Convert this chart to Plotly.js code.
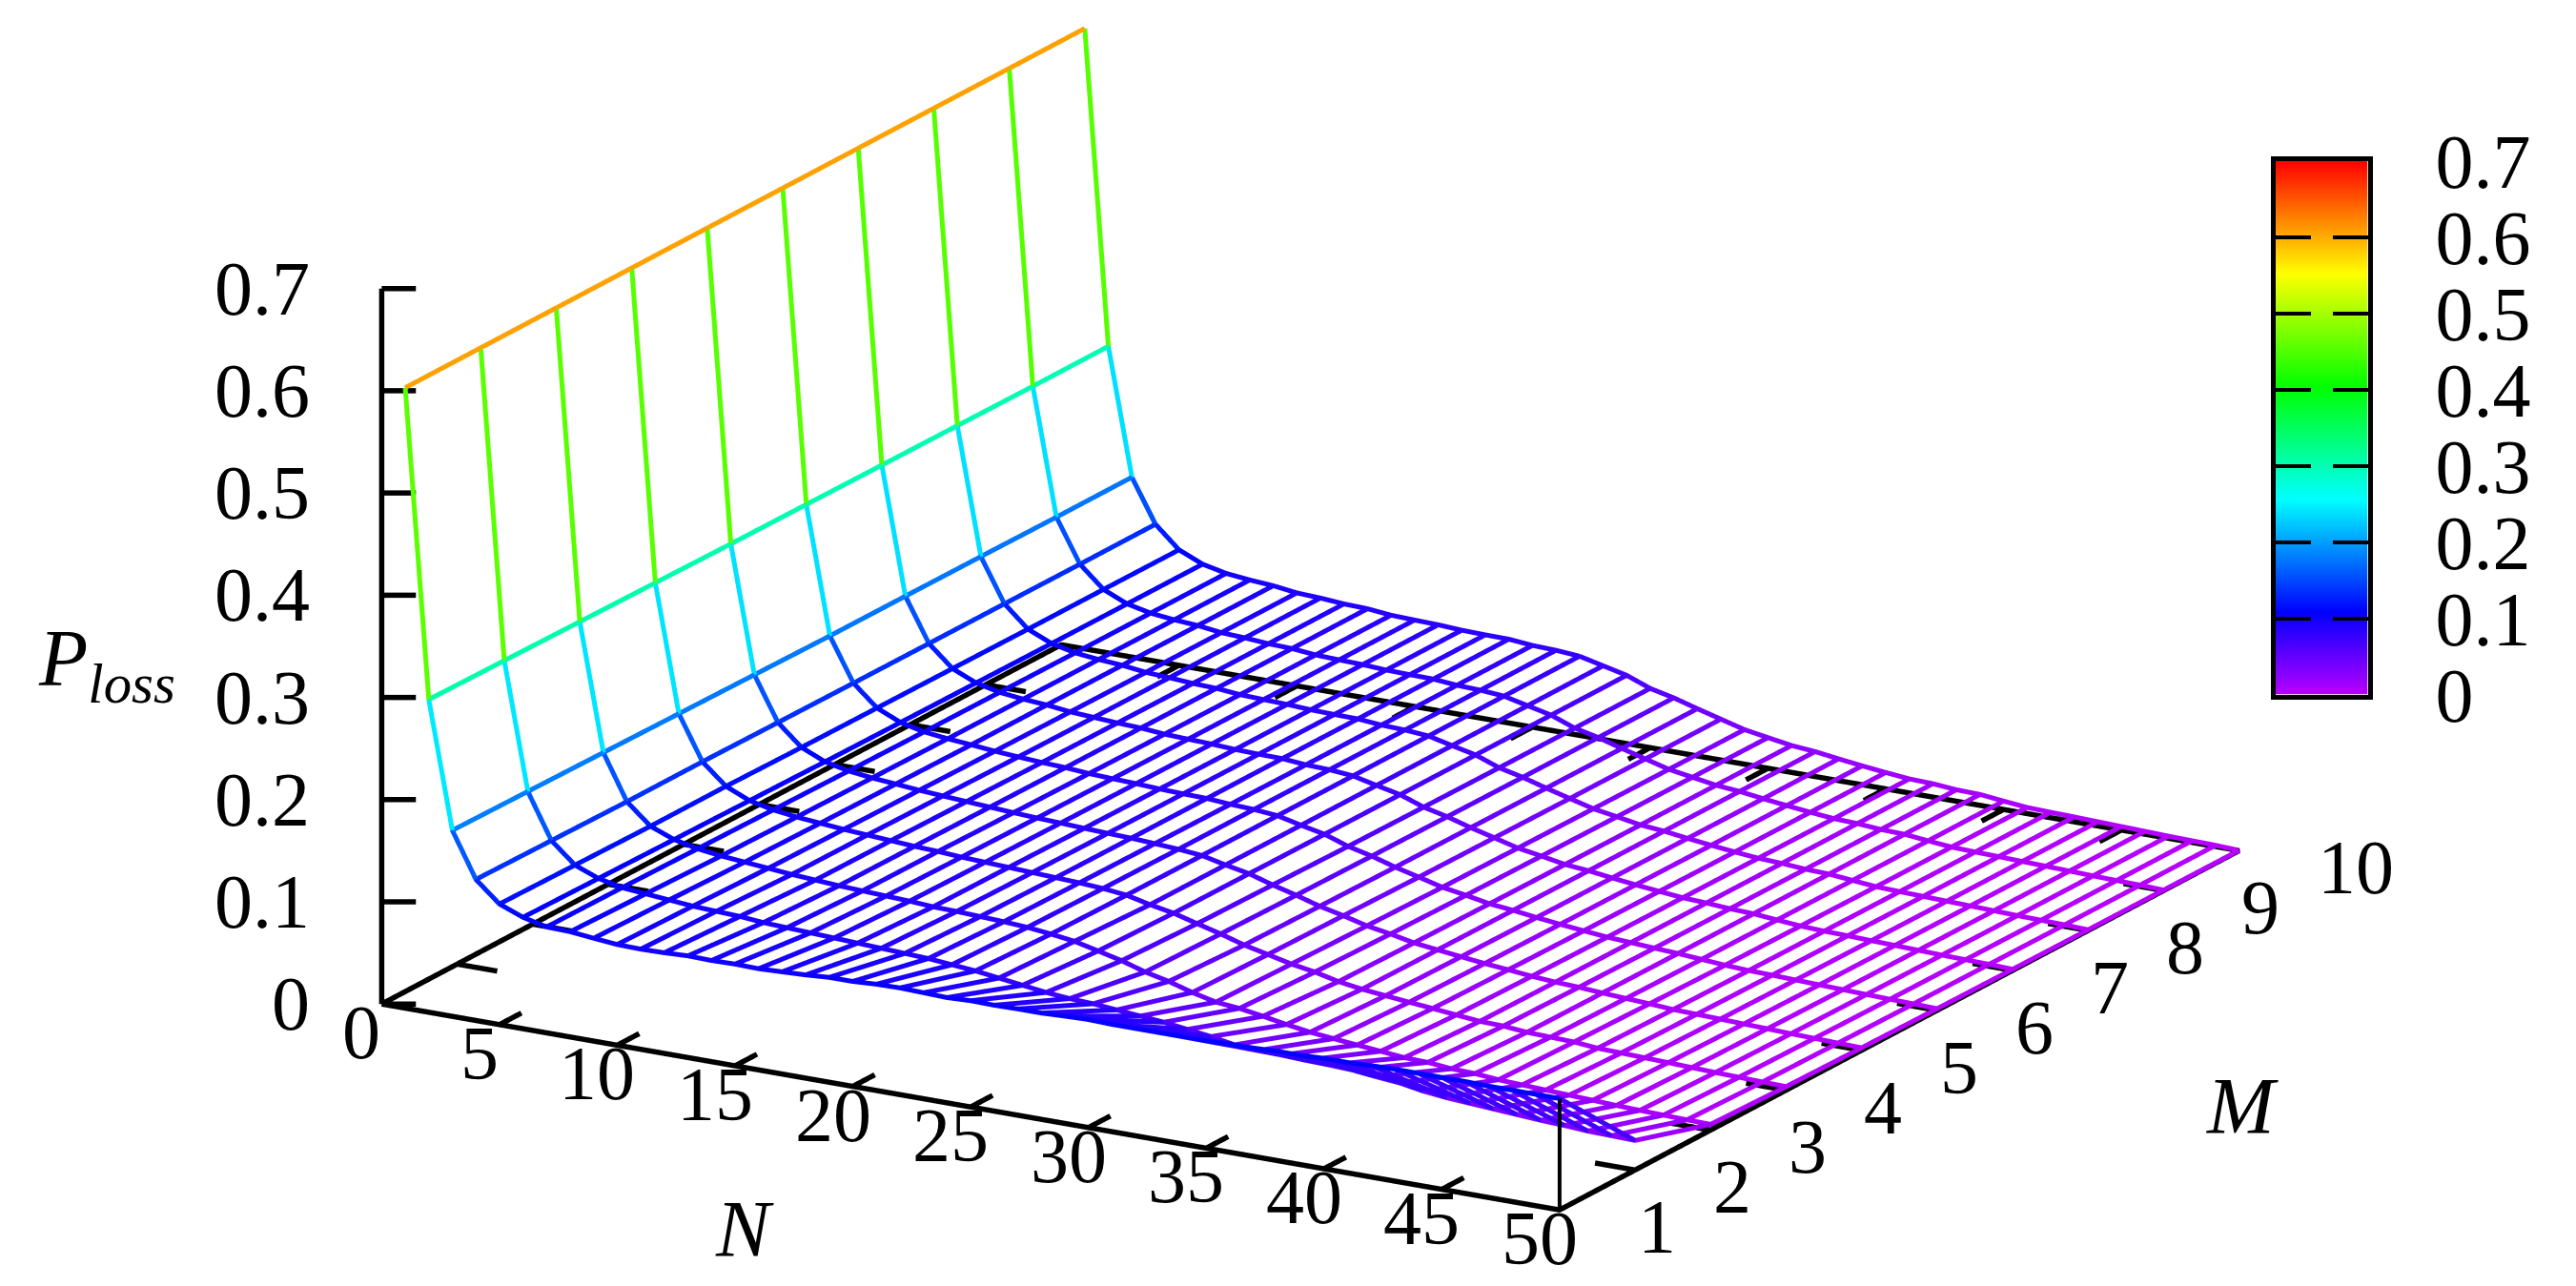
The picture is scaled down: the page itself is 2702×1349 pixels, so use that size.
<!DOCTYPE html>
<html><head><meta charset="utf-8"><script src="https://cdn.plot.ly/plotly-3.0.1.min.js"></script>
<style>html,body{margin:0;padding:0;background:#fff}</style></head><body><div id="c" style="width:2702px;height:1349px"></div>
<script>
var nValues=[];for(var i=1;i<=50;i++)nValues.push(i);
var mValues=[1,2,3,4,5,6,7,8,9,10];
var lossM1=[.607,.306,.182,.138,.118,.109,.1036,.103,.1006,.0985,.098,.0985,.0995,.099,.0995,.099,.1,.101,.1026,.1027,.104,.1044,.1037,.103,.104,.1036,.104,.104,.105,.1057,.105,.105,.105,.105,.105,.106,.106,.107,.107,.108,.108,.109,.1095,.1095,.1095,.1095,.109,.109,.109,.109];
var lossM2=[.607,.305,.181,.137,.117,.108,.103,.101,.099,.097,.096,.095,.093,.092,.091,.09,.089,.088,.087,.086,.084,.082,.079,.076,.073,.071,.07,.068,.066,.064,.061,.058,.054,.0525,.052,.051,.0505,.0495,.047,.045,.041,.0385,.037,.0355,.034,.0325,.0315,.03,.0295,.0289];
var lossM3=[.607,.304,.18,.136,.116,.107,.102,.099,.097,.095,.093,.0915,.09,.089,.088,.087,.0855,.085,.084,.083,.0815,.079,.0759,.0705,.065,.058,.0528,.046,.0406,.0385,.0348,.0308,.0273,.025,.0228,.0207,.0185,.0179,.0157,.015,.013,.012,.011,.01,.009,.008,.0072,.0066,.006,.0056];
var lossM4=[.607,.303,.179,.136,.116,.106,.101,.098,.096,.094,.0925,.091,.0895,.0885,.087,.086,.085,.084,.083,.082,.0805,.078,.0727,.0684,.0622,.0562,.0493,.0441,.0388,.035,.0297,.0263,.0239,.0216,.0195,.0172,.015,.0144,.0123,.0116,.0109,.0088,.0082,.0075,.0068,.006,.0052,.0046,.004,.0035];
var lossM5=[.607,.302,.178,.1353,.115,.105,.1,.0972,.0953,.0932,.0917,.0902,.0888,.0874,.0862,.0853,.0842,.0833,.0826,.0813,.0798,.0777,.0725,.068,.061,.055,.0482,.043,.0371,.0332,.0285,.0257,.023,.0204,.0183,.016,.0143,.0133,.0117,.0104,.0092,.0076,.007,.0063,.0056,.0049,.0041,.0036,.003,.0024];
var lossM6=[.607,.3015,.177,.1348,.1145,.1044,.0992,.0965,.0946,.0924,.0908,.0894,.0884,.0866,.0856,.0848,.0836,.0829,.0824,.0807,.0797,.0776,.0723,.0675,.0597,.0542,.0474,.0417,.0358,.032,.0277,.0253,.0223,.0197,.0174,.0152,.0139,.0125,.0113,.0096,.0079,.0067,.0062,.0055,.0048,.0041,.0034,.0028,.0023,.0016];
var lossM7=[.607,.301,.1768,.1345,.114,.104,.0988,.0962,.0945,.0918,.0904,.089,.0881,.0861,.0852,.0845,.0832,.0826,.0823,.0803,.0795,.0775,.0722,.0672,.059,.0537,.047,.0411,.0351,.0313,.0271,.025,.022,.0193,.0169,.0147,.0136,.012,.0111,.0091,.0072,.0062,.0057,.0049,.0043,.0036,.0029,.0024,.0019,.0011];
var lossM8=[.607,.3005,.1765,.1343,.1135,.1035,.0984,.0959,.0943,.0914,.0902,.0886,.0878,.0857,.0849,.0842,.083,.0824,.0821,.0801,.0793,.0775,.0721,.067,.0585,.0532,.0466,.0405,.0345,.0307,.0267,.0247,.0216,.0189,.0164,.0143,.0133,.0116,.0109,.0087,.0066,.0058,.0052,.0045,.0039,.0032,.0025,.002,.0015,.0007];
var lossM9=[.607,.3,.176,.134,.1133,.1032,.0982,.0957,.0941,.0912,.0901,.0884,.0877,.0855,.0847,.0841,.0828,.0823,.082,.08,.0792,.0774,.0721,.0669,.0582,.053,.0464,.0402,.034,.0303,.0265,.0245,.0214,.0187,.0162,.014,.0132,.0114,.0108,.0084,.0063,.0055,.005,.0043,.0037,.003,.0023,.0018,.0013,.0005];
var lossM10=[.607,.3,.176,.134,.113,.103,.098,.0956,.094,.091,.09,.0883,.0876,.0853,.0846,.084,.0827,.0822,.082,.0799,.0792,.0774,.0721,.0668,.058,.0528,.0462,.04,.0338,.03,.0263,.0244,.0213,.0185,.016,.0138,.0131,.0112,.0107,.0082,.006,.0053,.0048,.0041,.0035,.0028,.0021,.0016,.0012,.0003];
var lossByM=[lossM1,lossM2,lossM3,lossM4,lossM5,lossM6,lossM7,lossM8,lossM9,lossM10];
var nTicks=[0,5,10,15,20,25,30,35,40,45,50];
var mTicks=[1,2,3,4,5,6,7,8,9,10];
var zTicks=[0,.1,.2,.3,.4,.5,.6,.7];
var zTickText=['0','0.1','0.2','0.3','0.4','0.5','0.6','0.7'];
var barLevels=[0,.1,.2,.3,.4,.5,.6,.7];

var FONT='"Liberation Serif","Times New Roman",serif';
var palette=[[0,'#b800ff'],[.155,'#0000ff'],[.366,'#00ffff'],[.577,'#00ff00'],[.789,'#ffff00'],[1,'#ff0000']];
var traces=[];
// each segment takes one flat colour, the mean of its two ends
function wire(xs,ys,zs){var X=[],Y=[],Z=[],C=[];
  for(var k=0;k<zs.length-1;k++){var c=(zs[k]+zs[k+1])/2;X.push(xs[k],xs[k+1]);Y.push(ys[k],ys[k+1]);Z.push(zs[k],zs[k+1]);C.push(c,c);}
  traces.push({type:'scatter3d',mode:'lines',x:X,y:Y,z:Z,hoverinfo:'skip',showlegend:false,
  line:{width:10,color:C,colorscale:palette,cmin:0,cmax:.7,showscale:false}});}
mValues.forEach(function(m,j){wire(nValues,nValues.map(function(){return m}),lossByM[j]);});
nValues.forEach(function(n,i){wire(mValues.map(function(){return n}),mValues,lossByM.map(function(a){return a[i]}));});
function black(xs,ys,zs,w){traces.push({type:'scatter3d',mode:'lines',x:xs,y:ys,z:zs,hoverinfo:'skip',showlegend:false,connectgaps:false,line:{width:w,color:'#000'}});}
var NMAX=50,MMIN=1,MMAX=10,ZMAX=.7;
black([0,NMAX,NMAX,0,0],[MMIN,MMIN,MMAX,MMAX,MMIN],[0,0,0,0,0],11);
black([0,0],[MMIN,MMIN],[0,ZMAX],11);
black([NMAX,NMAX],[MMIN,MMIN],[0,lossM1[49]],8);
var tx=[],ty=[],tz=[];
function seg(a,b,c,d,e,f){tx.push(a,d,null);ty.push(b,e,null);tz.push(c,f,null);}
nTicks.forEach(function(n){seg(n,MMIN,0,n,MMIN+.29,0);seg(n,MMAX,0,n,MMAX-.29,0);});
mTicks.forEach(function(m){seg(0,m,0,1.7,m,0);seg(NMAX,m,0,NMAX-1.7,m,0);});
zTicks.forEach(function(z){seg(0,MMIN,z,1.095,MMIN+.1127,z);});
black(tx,ty,tz,11);

traces.push({type:'heatmap',xaxis:'x',yaxis:'y',x:[0,1],y:barLevels,z:barLevels.map(function(v){return [v,v]}),
  zsmooth:'best',zmin:0,zmax:.7,colorscale:palette,showscale:false,hoverinfo:'skip'});

var anns=[];
function lab(x,y,z,text,xa,xs,ys){anns.push({x:x,y:y,z:z,text:text,showarrow:false,xanchor:xa,yanchor:'middle',xshift:xs,yshift:ys,font:{family:FONT,size:80,color:'#000'}});}
zTicks.forEach(function(z,i){lab(0,MMIN,z,zTickText[i],'right',-73,0);});
nTicks.forEach(function(n){lab(n,MMIN,0,String(n),'center',-21,-30);});
mTicks.forEach(function(m){lab(NMAX,m,0,String(m),'left',80,-18);});

var az=29.9*Math.PI/180, el=17.7*Math.PI/180;
var dist=4, pxPerUnit=674.5, moveRight=23.5, moveUp=77;
var r={x:Math.cos(az),y:Math.sin(az),z:0};
var u={x:-Math.sin(az)*Math.sin(el),y:Math.cos(az)*Math.sin(el),z:Math.cos(el)};
var ctr={x:-(moveRight*r.x+moveUp*u.x)/pxPerUnit,y:-(moveRight*r.y+moveUp*u.y)/pxPerUnit,z:-(moveRight*r.z+moveUp*u.z)/pxPerUnit};
var eye={x:ctr.x+dist*Math.sin(az)*Math.cos(el),y:ctr.y-dist*Math.cos(az)*Math.cos(el),z:ctr.z+dist*Math.sin(el)};
var noAxis={visible:false,showgrid:false,zeroline:false,showspikes:false,showbackground:false,showticklabels:false,title:{text:''}};
// ranges are padded a little so nothing on the box edge gets clipped; the aspect ratio grows with them
var layout={width:2702,height:1349,margin:{l:0,r:0,t:0,b:0},paper_bgcolor:'#fff',plot_bgcolor:'#fff',showlegend:false,
 scene:{domain:{x:[0,1],y:[0,1]},bgcolor:'rgba(0,0,0,0)',aspectmode:'manual',aspectratio:{x:2.113*52/50,y:2.12*9.4/9,z:1.168*.74/.7},
   camera:{projection:{type:'orthographic'},eye:eye,center:ctr,up:{x:0,y:0,z:1}},
   xaxis:Object.assign({},noAxis,{range:[-1,51]}),yaxis:Object.assign({},noAxis,{range:[.8,10.2]}),zaxis:Object.assign({},noAxis,{range:[-.02,.72]}),annotations:anns},
 xaxis:{domain:[2386.5/2702,2483.5/2702],range:[0,1],showticklabels:false,ticks:'',showgrid:false,zeroline:false,showline:true,mirror:true,linewidth:5,linecolor:'#000',fixedrange:true},
 yaxis:{domain:[(1349-728.5)/1349,(1349-168.5)/1349],range:[0,.7],side:'right',tickvals:zTicks,ticktext:zTickText,ticks:'inside',ticklen:37,tickwidth:4,tickcolor:'#000',showgrid:false,zeroline:false,showline:true,mirror:'ticks',linewidth:5,linecolor:'#000',ticklabelstandoff:50,tickfont:{family:FONT,size:80,color:'#000'},fixedrange:true},
 annotations:[
  {xref:'paper',yref:'paper',x:781/2702,y:1-1289/1349,text:'<i>N</i>',showarrow:false,xanchor:'center',yanchor:'middle',font:{family:FONT,size:85,color:'#000'}},
  {xref:'paper',yref:'paper',x:2352/2702,y:1-1160/1349,text:'<i>M</i>',showarrow:false,xanchor:'center',yanchor:'middle',font:{family:FONT,size:85,color:'#000'}},
  {xref:'paper',yref:'paper',x:112/2702,y:1-697/1349,text:'<i>P<sub>loss</sub></i>',showarrow:false,xanchor:'center',yanchor:'middle',font:{family:FONT,size:84,color:'#000'}}
 ]};
Plotly.newPlot('c',traces,layout,{displayModeBar:false});
</script></body></html>
